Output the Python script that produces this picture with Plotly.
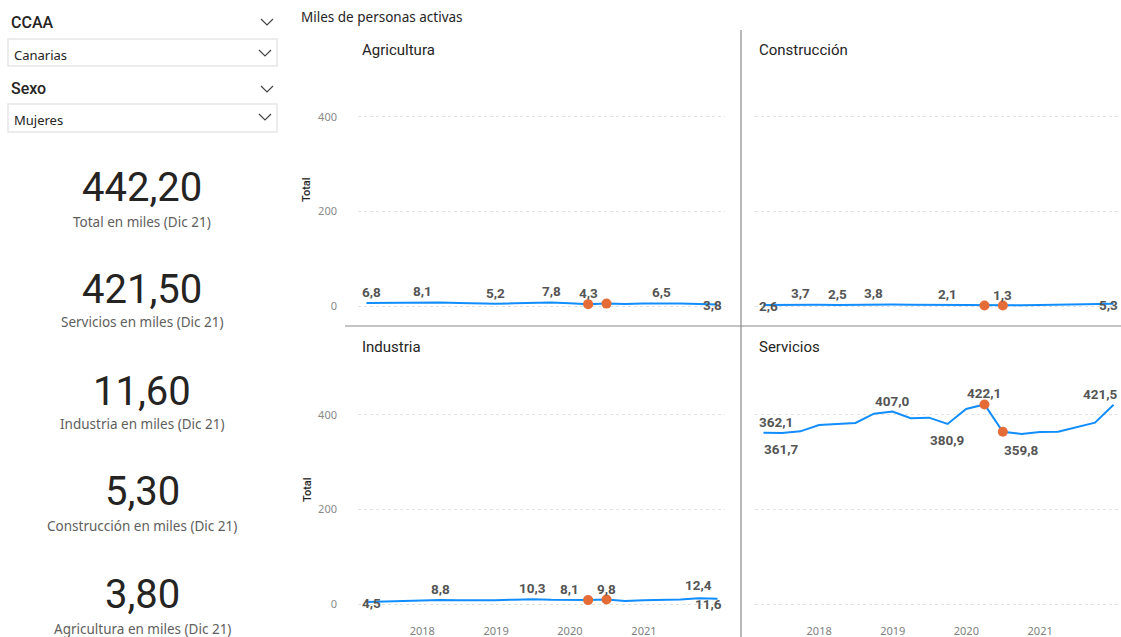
import pandas as pd
import plotly.graph_objects as go

# Quarterly periods (quarter-end dates), 2017 T1 .. 2021 T4
fechas = [
    "2017-03-31", "2017-06-30", "2017-09-30", "2017-12-31",
    "2018-03-31", "2018-06-30", "2018-09-30", "2018-12-31",
    "2019-03-31", "2019-06-30", "2019-09-30", "2019-12-31",
    "2020-03-31", "2020-06-30", "2020-09-30", "2020-12-31",
    "2021-03-31", "2021-06-30", "2021-09-30", "2021-12-31",
]

# Active population, women, Canarias (thousands)
agricultura = [6.8, 7.0, 7.5, 8.1, 7.6, 6.9, 6.0, 5.2, 6.1, 6.9,
               7.8, 6.4, 4.3, 5.4, 4.7, 5.8, 6.5, 5.9, 4.8, 3.8]
construccion = [2.6, 3.0, 3.7, 3.1, 2.5, 3.2, 3.8, 3.3, 2.9, 2.6,
                2.1, 2.4, 1.6, 1.3, 2.0, 2.7, 3.2, 3.9, 4.6, 5.3]
industria = [4.5, 5.6, 6.9, 7.8, 8.8, 8.2, 7.6, 8.4, 9.5, 10.3,
             9.1, 8.1, 8.6, 9.8, 6.9, 8.3, 9.0, 10.1, 12.4, 11.6]
servicios = [362.1, 361.7, 365.3, 378.8, 381.0, 383.0, 402.7, 407.0, 392.9, 394.3,
             380.9, 412.7, 422.1, 364.6, 359.8, 364.0, 364.7, 373.8, 383.7, 421.5]

# Highlighted quarters
destacados = ["2020-03-31", "2020-06-30"]

# Year ticks
anios_tick = ["2018-01-01", "2019-01-01", "2020-01-01", "2021-01-01"]
anios_texto = ["2018", "2019", "2020", "2021"]
y_ticks = [0, 200, 400]

# Which points carry a data label: (index, vertical placement, edge alignment)
etiquetas = {
    "Agricultura": [(0, "above", "l"), (3, "above", None), (7, "above", None),
                    (10, "above", None), (12, "above", None), (16, "above", None),
                    (19, "level", "r")],
    "Construcción": [(0, "level", "l"), (2, "above", None), (4, "above", None),
                     (6, "above", None), (10, "above", None), (13, "above", None),
                     (19, "level", "r")],
    "Industria": [(0, "level", "l"), (4, "above", None), (9, "above", None),
                  (11, "above", None), (13, "above", None), (18, "high", None),
                  (19, "low", "r")],
    "Servicios": [(0, "above", "l"), (1, "below", None), (7, "above", None),
                  (10, "below", None), (12, "above", None), (14, "below", None),
                  (19, "above", "r")],
}
desplaz_y = {"above": 11, "high": 13, "below": -16, "level": -1, "low": -5}

series = {
    "Agricultura": agricultura,
    "Construcción": construccion,
    "Industria": industria,
    "Servicios": servicios,
}

W, H = 1121, 637
AZUL = "#118DFF"
NARANJA = "#E66C37"
TXT = "#252423"
GRIS = "#605E5C"
FONT = "Roboto"
FONT_UI = "Noto Sans"


def px(x):
    return x / W


def py(y):
    return 1 - y / H


def coma(v, d):
    return f"{v:.{d}f}".replace(".", ",")


# Panel geometry (pixels)
col_dom = [(358, 725), (755, 1121)]
row_dom = [(72, 318), (370, 616)]
paneles = [("Agricultura", 0, 0), ("Construcción", 1, 0),
           ("Industria", 0, 1), ("Servicios", 1, 1)]

t0 = pd.Timestamp(fechas[0])
t1 = pd.Timestamp(fechas[-1])
x_range = [(t0 - pd.Timedelta(days=42)).strftime("%Y-%m-%d"),
           (t1 + pd.Timedelta(days=37)).strftime("%Y-%m-%d")]
y_range = [-25, 495]

fig = go.Figure()
layout = {}
annotations = []

for k, (nombre, c, r) in enumerate(paneles, start=1):
    xa = "x" if k == 1 else f"x{k}"
    ya = "y" if k == 1 else f"y{k}"
    xkey = "xaxis" if k == 1 else f"xaxis{k}"
    ykey = "yaxis" if k == 1 else f"yaxis{k}"
    vals = series[nombre]

    fig.add_trace(go.Scatter(
        x=fechas, y=vals, mode="lines", xaxis=xa, yaxis=ya,
        line=dict(color=AZUL, width=2), hoverinfo="skip", showlegend=False,
    ))
    hx = [f for f in fechas if f in destacados]
    hy = [vals[fechas.index(f)] for f in hx]
    fig.add_trace(go.Scatter(
        x=hx, y=hy, mode="markers", xaxis=xa, yaxis=ya,
        marker=dict(color=NARANJA, size=10), hoverinfo="skip", showlegend=False,
    ))

    layout[xkey] = dict(
        domain=[px(col_dom[c][0]), px(col_dom[c][1])],
        anchor=ya, type="date", range=x_range,
        showgrid=False, zeroline=False, showline=False,
        tickvals=anios_tick, ticktext=anios_texto,
        showticklabels=(r == 1), ticks="",
        tickfont=dict(family=FONT_UI, size=11, color="#808080"),
        ticklabelstandoff=7,
    )
    layout[ykey] = dict(
        domain=[py(row_dom[r][1]), py(row_dom[r][0])],
        anchor=xa, range=y_range,
        tickvals=y_ticks, showticklabels=(c == 0), ticks="",
        showgrid=True, griddash="dot", gridcolor="#E2E2E2", gridwidth=1,
        zeroline=False, showline=False,
        tickfont=dict(family=FONT_UI, size=11, color="#8A8A8A"),
        ticklabelstandoff=20,
    )

    # panel title
    annotations.append(dict(
        text=nombre, xref="paper", yref="paper",
        x=px(col_dom[c][0] + 2), y=py(50 if r == 0 else 347),
        xanchor="left", yanchor="middle", showarrow=False,
        font=dict(family=FONT, size=15, color=TXT),
    ))

    # data labels
    for idx, pos, edge in etiquetas[nombre]:
        xanchor, xshift = "center", 0
        if edge == "l":
            xanchor, xshift = "left", -6
        elif edge == "r":
            xanchor, xshift = "right", 6
        annotations.append(dict(
            text=f"<b>{coma(vals[idx], 1)}</b>", xref=xa, yref=ya,
            x=fechas[idx], y=vals[idx], xanchor=xanchor, yanchor="middle",
            xshift=xshift, yshift=desplaz_y[pos], showarrow=False,
            font=dict(family=FONT, size=13.5, color="#555555"),
        ))

# y axis titles
for yc in (190, 490):
    annotations.append(dict(
        text="Total", xref="paper", yref="paper", x=px(307), y=py(yc),
        textangle=-90, showarrow=False, xanchor="center", yanchor="middle",
        font=dict(family=FONT, size=11, color=TXT, weight=500),
    ))

# chart title
annotations.append(dict(
    text="Miles de personas activas", xref="paper", yref="paper",
    x=px(299), y=py(17), xanchor="left", yanchor="middle", showarrow=False,
    font=dict(family=FONT_UI, size=13.5, color=TXT),
))

# slicers
for titulo, sel, yt, yb in (("CCAA", "Canarias", 22, 55), ("Sexo", "Mujeres", 88, 120)):
    annotations.append(dict(
        text=titulo, xref="paper", yref="paper", x=px(9), y=py(yt),
        xanchor="left", yanchor="middle", showarrow=False,
        font=dict(family=FONT, size=16, color=TXT, weight=500),
    ))
    annotations.append(dict(
        text=sel, xref="paper", yref="paper", x=px(12), y=py(yb),
        xanchor="left", yanchor="middle", showarrow=False,
        font=dict(family=FONT_UI, size=13, color=TXT),
    ))

# KPI cards
ultimo = {k: v[-1] for k, v in series.items()}
total = sum(ultimo.values())
kpis = [
    (total, "Total en miles (Dic 21)", 187, 222),
    (ultimo["Servicios"], "Servicios en miles (Dic 21)", 289, 322),
    (ultimo["Industria"], "Industria en miles (Dic 21)", 391, 424),
    (ultimo["Construcción"], "Construcción en miles (Dic 21)", 492, 526),
    (ultimo["Agricultura"], "Agricultura en miles (Dic 21)", 594, 629),
]
for v, sub, yv, ys in kpis:
    annotations.append(dict(
        text=coma(v, 2), xref="paper", yref="paper", x=px(142), y=py(yv),
        xanchor="center", yanchor="middle", showarrow=False,
        font=dict(family=FONT, size=40, color=TXT),
    ))
    annotations.append(dict(
        text=sub, xref="paper", yref="paper", x=px(142), y=py(ys),
        xanchor="center", yanchor="middle", showarrow=False,
        font=dict(family=FONT_UI, size=13.5, color=GRIS),
    ))

shapes = []


def chevron(cx, cy, w=12, h=6):
    return dict(
        type="path", xref="paper", yref="paper",
        path=(f"M {px(cx - w / 2)},{py(cy - h / 2)} L {px(cx)},{py(cy + h / 2)} "
              f"L {px(cx + w / 2)},{py(cy - h / 2)}"),
        line=dict(color="#444444", width=1.2),
    )


for y0, y1 in ((39, 66), (104, 132)):
    shapes.append(dict(type="rect", xref="paper", yref="paper",
                       x0=px(8), x1=px(277), y0=py(y1), y1=py(y0),
                       line=dict(color="#E6E6E6", width=1.5)))
for cx, cy in ((267, 22), (265, 53), (267, 89), (265, 117)):
    shapes.append(chevron(cx, cy))

# panel dividers
shapes.append(dict(type="line", xref="paper", yref="paper",
                   x0=px(741), x1=px(741), y0=py(30), y1=py(637),
                   line=dict(color="#A0A0A0", width=1.5)))
shapes.append(dict(type="line", xref="paper", yref="paper",
                   x0=px(345), x1=px(1121), y0=py(326), y1=py(326),
                   line=dict(color="#8A8A8A", width=1.2)))

fig.update_layout(
    width=W, height=H,
    margin=dict(l=0, r=0, t=0, b=0),
    paper_bgcolor="white", plot_bgcolor="white",
    showlegend=False,
    annotations=annotations, shapes=shapes,
    **layout,
)

fig.write_html("out.html")
